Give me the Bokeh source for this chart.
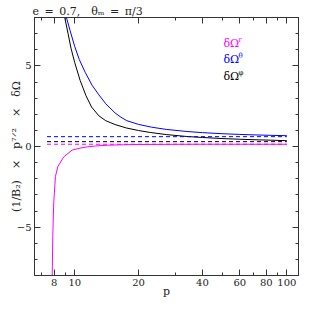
import numpy as np
from bokeh.plotting import figure
from bokeh.models import Range1d, FixedTicker, LinearAxis, LogAxis, Label
from bokeh.embed import file_html
from bokeh.resources import INLINE

# ---- data ----
p_r = [7.83, 7.88, 7.96, 8.11, 8.32, 8.87, 9.72, 10.6, 11.5, 12.5, 14.2, 17, 20, 30, 40, 60, 100]
dOmega_r = [-8.0, -5.5, -3.5, -1.86, -1.25, -0.65, -0.22, -0.1, -0.02, 0.03, 0.08, 0.11, 0.125, 0.135, 0.14, 0.14, 0.14]

p_theta = [9.14, 9.5, 10.0, 10.5, 11.2, 12.07, 13.0, 14.0, 15.5, 16.5, 17.6, 20, 23, 27, 33.8, 40, 50, 60, 70, 85, 100]
dOmega_theta = [8.0, 7.2, 6.2, 5.4, 4.6, 3.8, 3.2, 2.65, 2.08, 1.82, 1.6, 1.37, 1.2, 1.06, 0.93, 0.86, 0.79, 0.75, 0.72, 0.69, 0.67]

p_phi = [8.97, 9.3, 9.6, 10.0, 10.6, 11.3, 12.0, 13.0, 14.0, 15.5, 17.5, 20, 22.7, 27, 33.8, 40, 50, 60, 70, 85, 100]
dOmega_phi = [8.0, 7.0, 6.1, 5.2, 4.1, 3.15, 2.45, 1.9, 1.6, 1.36, 1.15, 0.99, 0.87, 0.74, 0.62, 0.56, 0.49, 0.45, 0.42, 0.39, 0.36]

asym_p = [7.4, 100]
asym_r = [0.14, 0.14]
asym_theta = [0.61, 0.61]
asym_phi = [0.30, 0.30]

x_ticks = [8, 10, 20, 40, 60, 80, 100]
x_minor = [7, 9, 30, 50, 70, 90]
y_ticks = [-5, 0, 5]
y_minor = [-8, -7, -6, -4, -3, -2, -1, 1, 2, 3, 4, 6, 7, 8]

series_names = ["r", "θ", "φ"]
colors = ["#ff00ff", "#0000ff", "#000000"]

title_text = "e\u2002=\u20020.7,\u2003θ\u2098\u2002=\u2002π/3"
x_label = "p"
y_label = "(1/B\u2082)\u2003×\u2003p\u2077\u141f\u00b2\u2003×\u2003δΩ"

X0, X1 = 6.46, 113.5
Y0, Y1 = -8, 8

# ---- layout (canvas pixels) ----
W, H = 300, 300
FL, FR, FT, FB = 34, 298, 17, 276
FONT = "DejaVu Serif"
AX = "#333333"
TXT = "#222222"

p = figure(width=W, height=H, x_axis_type="log",
           x_range=Range1d(X0, X1), y_range=Range1d(Y0, Y1),
           output_backend="svg", toolbar_location=None, title=title_text,
           min_border_left=FL, min_border_right=W - FR,
           min_border_top=FT, min_border_bottom=H - FB)
p.xgrid.visible = False
p.ygrid.visible = False
p.outline_line_color = AX
p.background_fill_color = "white"
p.border_fill_color = "white"

p.title.text_font = FONT
p.title.text_font_size = "11px"
p.title.text_font_style = "normal"
p.title.text_color = TXT
p.title.align = "left"
p.title.offset = -2
p.title.standoff = 0

def style_axis(ax, labels=True):
    ax.axis_line_color = AX
    ax.major_tick_line_color = AX
    ax.minor_tick_line_color = AX
    ax.major_tick_in = 6
    ax.major_tick_out = 0
    ax.minor_tick_in = 3
    ax.minor_tick_out = 0
    ax.major_label_text_font = FONT
    ax.major_label_text_color = TXT
    ax.axis_label_text_font = FONT
    ax.axis_label_text_font_style = "normal"
    ax.axis_label_text_color = TXT
    ax.axis_label_text_font_size = "11px"
    if labels:
        ax.major_label_text_font_size = "10px"
        ax.major_label_standoff = 3
    else:
        ax.major_label_text_font_size = "1px"
        ax.major_label_text_color = None
        ax.major_label_standoff = 0

p.xaxis.ticker = FixedTicker(ticks=x_ticks, minor_ticks=x_minor)
p.yaxis.ticker = FixedTicker(ticks=y_ticks, minor_ticks=y_minor)
style_axis(p.xaxis[0])
style_axis(p.yaxis[0])
p.xaxis.major_label_overrides = {t: str(t) for t in x_ticks}
p.yaxis.major_label_overrides = {-5: "\u22125", 0: "0", 5: "5"}
p.xaxis.axis_label = x_label
p.yaxis.axis_label = y_label
p.xaxis.axis_label_standoff = -4
p.yaxis.axis_label_standoff = -9

top = LogAxis(ticker=FixedTicker(ticks=x_ticks, minor_ticks=x_minor))
style_axis(top, labels=False)
p.add_layout(top, "above")
right = LinearAxis(ticker=FixedTicker(ticks=y_ticks, minor_ticks=y_minor))
style_axis(right, labels=False)
p.add_layout(right, "right")

# ---- curves ----
for xs, ys, c in [(p_r, dOmega_r, colors[0]), (p_theta, dOmega_theta, colors[1]), (p_phi, dOmega_phi, colors[2])]:
    p.line(x=xs, y=ys, line_color=c, line_width=1)

for ys, c in [(asym_r, colors[0]), (asym_theta, colors[1]), (asym_phi, colors[2])]:
    p.line(x=asym_p, y=ys, line_color=c, line_width=1, line_dash="4 3")

# ---- legend texts (inside the frame), canvas pixels ----
def lab(text, x, y, size="11px", color=TXT):
    p.add_layout(Label(x=x, y=y, x_units="canvas", y_units="canvas", text=text,
                       text_font=FONT, text_font_size=size, text_color=color,
                       text_align="left", text_baseline="alphabetic"))

leg_base = [43, 59, 76]
for name, c, yy in zip(series_names, colors, leg_base):
    lab("δΩ", 223, yy, color=c)
    lab(name, 238, yy - 4, size="7px", color=c)

html = file_html(p, INLINE)
open("out.html", "w").write(html)
